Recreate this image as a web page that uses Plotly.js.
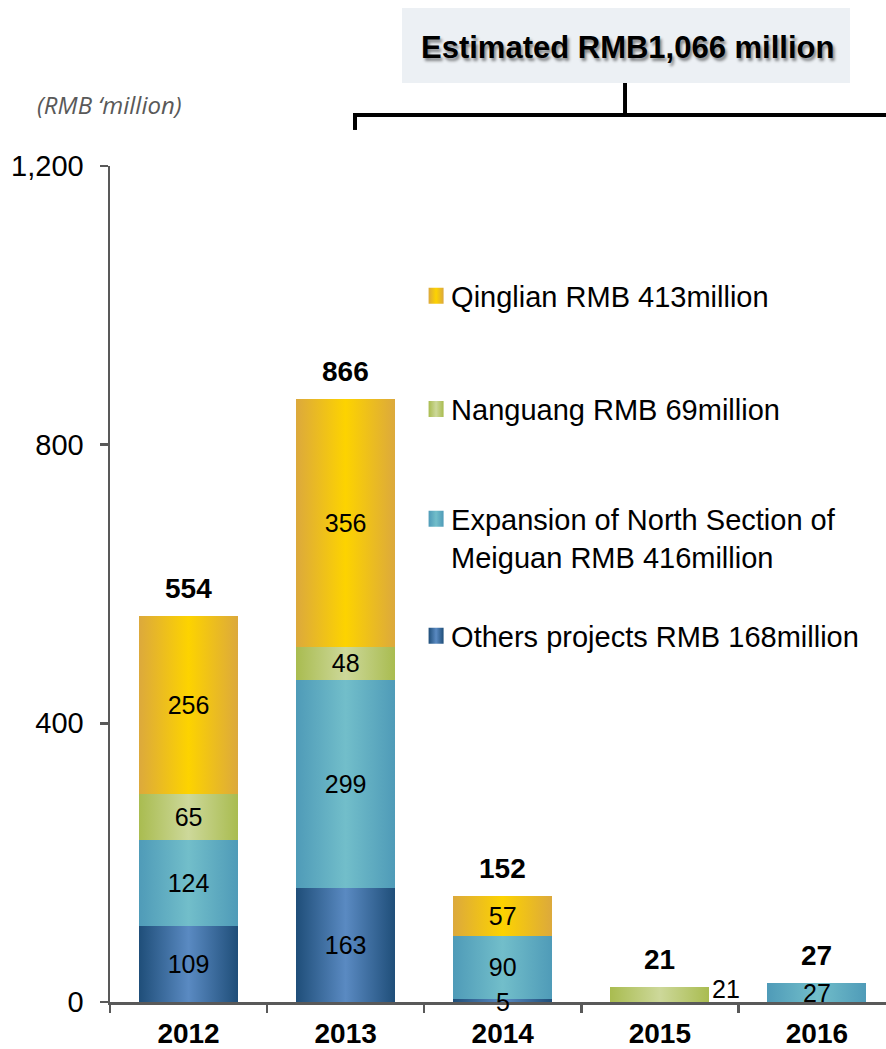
<!DOCTYPE html>
<html>
<head>
<meta charset="utf-8">
<script src="https://cdn.plot.ly/plotly-3.0.1.min.js"></script>
<style>
html, body { margin: 0; padding: 0; background: #ffffff; }
#chart { width: 886px; height: 1049px; }
</style>
</head>
<body>
<div id="chart"></div>
<script>
// ---- data ----
const years = ['2012', '2013', '2014', '2015', '2016'];
const others = [109, 163, 5, null, null];
const expansion = [124, 299, 90, null, 27];
const nanguang = [65, 48, null, 21, null];
const qinglian = [256, 356, 57, null, null];
const yTicks = [0, 400, 800, 1200];
const legendNames = [
  'Others projects RMB 168million',
  'Expansion of North Section of<br>Meiguan RMB 416million',
  'Nanguang RMB 69million',
  'Qinglian RMB 413million'
];
const headerText = 'Estimated RMB1,066 million';
const unitText = '(RMB \u2018million)';

// ---- styles ----
const FONT = 'Liberation Sans, Arial, sans-serif';
const solid = ['#3D6EA3', '#5FACC1', '#BCCB74', '#F0C020'];
const grads = [
  ['#1F4E79', '#5A8AC2', '#1F4E79'],
  ['#4F9BB8', '#72BECA', '#4F9BB8'],
  ['#A9BC50', '#CDD89A', '#A9BC50'],
  ['#DCA93C', '#FDD300', '#DCA93C']
];
const series = [others, expansion, nanguang, qinglian];
const legendIds = ['legend4', 'legend3', 'legend2', 'legend'];

// labels drawn as annotations instead of inside the bar: [seriesIndex, yearIndex, xshift, yshift, anchor]
const specialLabels = [
  [0, 2, 0, -2, 'center'],   // 2014 others (5) - tiny bar
  [2, 3, 50, 6, 'left']      // 2015 nanguang (21) - beside the bar
];
const isSpecial = (i, k) => specialLabels.some(s => s[0] === i && s[1] === k);

const traces = series.map((vals, i) => ({
  type: 'bar',
  x: years,
  y: vals,
  name: legendNames[i],
  legend: legendIds[i],
  marker: { color: solid[i], line: { width: 0 } },
  width: 0.63,
  text: vals.map((v, k) => (v == null || isSpecial(i, k)) ? '' : String(v)),
  texttemplate: '%{text}',
  textposition: 'inside',
  insidetextanchor: 'middle',
  constraintext: 'none',
  textangle: 0,
  textfont: { family: FONT, size: 25, color: '#000000' },
  hoverinfo: 'skip'
}));

const totals = years.map((_, k) => series.reduce((s, arr) => s + (arr[k] || 0), 0));

const annotations = [];
totals.forEach((t, k) => {
  annotations.push({
    x: k, y: t, xref: 'x', yref: 'y',
    text: '<b>' + t + '</b>', showarrow: false,
    yanchor: 'bottom', yshift: 10,
    font: { family: FONT, size: 28, color: '#000000' }
  });
});
specialLabels.forEach(([i, k, xs, ys, anc]) => {
  let base = 0;
  for (let j = 0; j < i; j++) base += series[j][k] || 0;
  annotations.push({
    x: k, y: base + series[i][k] / 2, xref: 'x', yref: 'y',
    text: String(series[i][k]), showarrow: false,
    xanchor: anc, xshift: xs, yshift: ys,
    font: { family: FONT, size: 25, color: '#000000' }
  });
});
annotations.push({
  x: 0.6669, y: 1.1423, xref: 'paper', yref: 'paper',
  text: '<b>' + headerText + '</b>', showarrow: false,
  xanchor: 'center', yanchor: 'middle',
  font: { family: FONT, size: 31, color: '#000000', shadow: '2px 3px 3px rgba(0,0,0,0.45)' }
});
annotations.push({
  x: -0.0966, y: 1.073, xref: 'paper', yref: 'paper',
  text: unitText, showarrow: false,
  xanchor: 'left', yanchor: 'middle',
  font: { family: 'Open Sans, sans-serif', size: 24, color: '#595959', style: 'italic' }
});

const shapes = [
  { type: 'rect', xref: 'paper', yref: 'paper', x0: 0.3763, x1: 0.9536, y0: 1.0993, y1: 1.189,
    fillcolor: '#ECF0F4', line: { width: 0 }, layer: 'below' },
  { type: 'line', xref: 'paper', yref: 'paper', x0: 0.6637, x1: 0.6637, y0: 1.0993, y1: 1.061,
    line: { color: '#000000', width: 4 } },
  { type: 'line', xref: 'paper', yref: 'paper', x0: 0.3157, x1: 1.02, y0: 1.061, y1: 1.061,
    line: { color: '#000000', width: 4 } },
  { type: 'line', xref: 'paper', yref: 'paper', x0: 0.3157, x1: 0.3157, y0: 1.0634, y1: 1.0431,
    line: { color: '#000000', width: 4 } }
];

const legendBase = {
  xref: 'paper', yref: 'paper', xanchor: 'left', yanchor: 'middle',
  bgcolor: 'rgba(0,0,0,0)', borderwidth: 0,
  font: { family: FONT, size: 29, color: '#000000' },
  itemclick: false, itemdoubleclick: false, valign: 'top'
};
const lx = 0.388;

const layout = {
  width: 886, height: 1049,
  margin: { l: 110, r: 0, t: 166, b: 47 },
  paper_bgcolor: '#ffffff', plot_bgcolor: '#ffffff',
  barmode: 'stack',
  showlegend: true,
  legend: Object.assign({}, legendBase, { x: lx, y: 0.8445 }),
  legend2: Object.assign({}, legendBase, { x: lx, y: 0.7093 }),
  legend3: Object.assign({}, legendBase, { x: lx, y: 0.555 }),
  legend4: Object.assign({}, legendBase, { x: lx, y: 0.4378 }),
  xaxis: {
    type: 'category', range: [-0.5, 4.44],
    showline: true, linecolor: '#595959', linewidth: 2.5,
    ticks: 'outside', tickson: 'boundaries', ticklen: 8, tickwidth: 2.5, tickcolor: '#595959',
    tickfont: { family: FONT, size: 28, color: '#000000', weight: 'bold' },
    ticklabelstandoff: 5,
    showgrid: false, zeroline: false, fixedrange: true
  },
  yaxis: {
    range: [0, 1200], tickvals: yTicks, tickformat: ',',
    showline: true, linecolor: '#595959', linewidth: 2.5,
    ticks: 'outside', ticklen: 8, tickwidth: 2.5, tickcolor: '#595959',
    tickfont: { family: FONT, size: 29, color: '#000000' },
    ticklabelstandoff: 10,
    showgrid: false, zeroline: false, fixedrange: true
  },
  annotations: annotations,
  shapes: shapes
};

const gd = document.getElementById('chart');
Plotly.newPlot(gd, traces, layout, { displayModeBar: false, staticPlot: true }).then(() => {
  const NS = 'http://www.w3.org/2000/svg';
  const svg = gd.querySelector('svg.main-svg');
  let defs = svg.querySelector('defs');
  if (!defs) { defs = document.createElementNS(NS, 'defs'); svg.insertBefore(defs, svg.firstChild); }
  grads.forEach((g, i) => {
    const lg = document.createElementNS(NS, 'linearGradient');
    lg.setAttribute('id', 'bargrad' + i);
    lg.setAttribute('x1', '0'); lg.setAttribute('x2', '1');
    lg.setAttribute('y1', '0'); lg.setAttribute('y2', '0');
    [[0, g[0]], [0.5, g[1]], [1, g[2]]].forEach(([o, c]) => {
      const st = document.createElementNS(NS, 'stop');
      st.setAttribute('offset', o);
      st.setAttribute('stop-color', c);
      lg.appendChild(st);
    });
    defs.appendChild(lg);
  });
  const idxOf = (el, fallback) => {
    const d = el.__data__;
    if (d && d[0] && d[0].trace && typeof d[0].trace.index === 'number') return d[0].trace.index;
    return fallback;
  };
  gd.querySelectorAll('.barlayer .trace').forEach((t, j) => {
    const i = idxOf(t, j);
    t.querySelectorAll('path').forEach(p => { p.style.fill = 'url(#bargrad' + i + ')'; });
  });
  gd.querySelectorAll('g.traces').forEach((t, j) => {
    const i = idxOf(t, j);
    t.querySelectorAll('.legendpoints path').forEach(p => {
      p.style.fill = 'url(#bargrad' + i + ')';
      p.style.stroke = 'none';
      p.setAttribute('d', 'M-7.5,-8H7.5V8H-7.5Z');
      const tr = p.getAttribute('transform') || '';
      p.setAttribute('transform', tr + ' translate(5,0)');
    });
  });
});
</script>
</body>
</html>
